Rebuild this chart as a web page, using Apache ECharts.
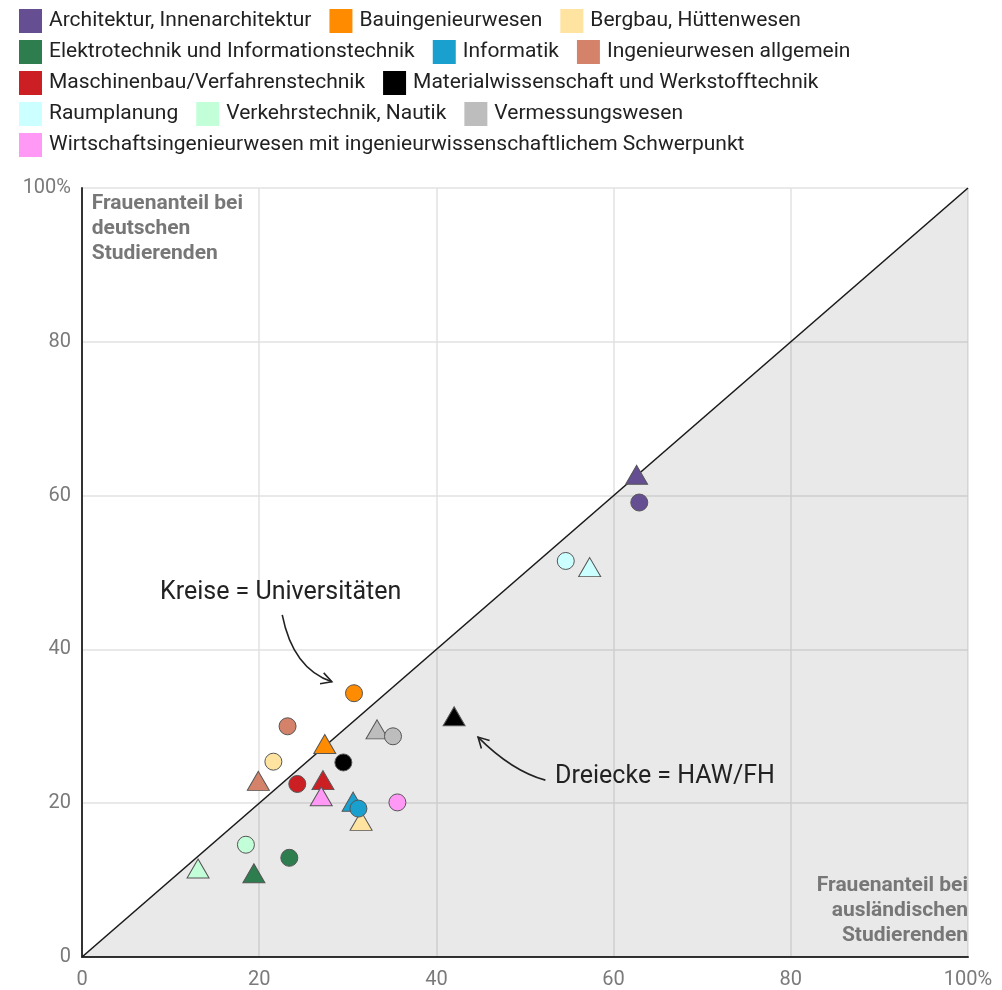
<!DOCTYPE html>
<html>
<head>
<meta charset="utf-8">
<script src="https://cdn.jsdelivr.net/npm/echarts@6/dist/echarts.min.js"></script>
<style>html,body{margin:0;padding:0;background:#fff}#c{width:1002px;height:990px}</style>
</head>
<body>
<div id="c"></div>
<script>
const categories = [
  'Architektur, Innenarchitektur','Bauingenieurwesen','Bergbau, Hüttenwesen',
  'Elektrotechnik und Informationstechnik','Informatik','Ingenieurwesen allgemein',
  'Maschinenbau/Verfahrenstechnik','Materialwissenschaft und Werkstofftechnik',
  'Raumplanung','Verkehrstechnik, Nautik','Vermessungswesen',
  'Wirtschaftsingenieurwesen mit ingenieurwissenschaftlichem Schwerpunkt'
];
const colors = ['#654f92','#ff8c00','#ffe3a0','#2e7d4f','#1aa0cf','#d4836a',
  '#cc1f24','#000000','#ccffff','#c2ffd8','#bdbdbd','#ff99f5'];
// Universities (circles): foreign share (x), German share (y)
const uniX = [62.9, 30.7, 21.6, 23.4, 31.2, 23.2, 24.3, 29.5, 54.6, 18.5, 35.1, 35.6];
const uniY = [59.1, 34.3, 25.4, 12.9, 19.3, 30.0, 22.5, 25.3, 51.5, 14.6, 28.7, 20.1];
// HAW/FH (triangles)
const hawX = [62.6, 27.4, 31.5, 19.4, 30.6, 19.9, 27.2, 42.0, 57.3, 13.1, 33.3, 27.0];
const hawY = [62.7, 27.7, 17.7, 10.9, 20.2, 22.9, 23.0, 31.3, 50.7, 11.5, 29.6, 20.9];
const legendRows = [[0,1,2],[3,4,5],[6,7],[8,9,10],[11]];

const chart = echarts.init(document.getElementById('c'), null, {renderer:'canvas'});

const series = [{
  type:'line', data:[[0,0],[100,100]], symbol:'none', silent:true,
  lineStyle:{color:'#1a1a1a', width:1.6},
  areaStyle:{color:'rgba(0,0,0,0.085)', opacity:1}, z:1
}];
categories.forEach((name,i)=>{
  series.push({
    type:'scatter', name, z:3,
    itemStyle:{color:colors[i], borderColor:'#555', borderWidth:1, opacity:1},
    data:[
      {value:[hawX[i],hawY[i]], symbol:'triangle', symbolSize:[22,19]},
      {value:[uniX[i],uniY[i]], symbol:'circle', symbolSize:17}
    ]
  });
});

const legends = legendRows.map((row,r)=>({
  data: row.map(i=>categories[i]), left:19, top:9 + r*31, padding:0,
  orient:'horizontal', icon:'rect', itemWidth:23, itemHeight:24, itemGap:18,
  selectedMode:false,
  itemStyle:{borderWidth:0, opacity:1},
  textStyle:{fontFamily:'Roboto', fontSize:21, color:'#222', padding:[0,0,0,2]}
}));

const labelFmt = v => v===100 ? '100%' : String(v);
chart.setOption({
  animation:false,
  color: colors,
  legend: legends,
  grid:{left:82, right:34, top:188, bottom:32, containLabel:false},
  xAxis:{type:'value', min:0, max:100, interval:20,
    axisLine:{show:true, onZero:false, lineStyle:{color:'#333', width:2}},
    axisTick:{show:false},
    splitLine:{show:true, lineStyle:{color:'#e2e2e2', width:1.5}},
    axisLabel:{formatter:labelFmt, color:'#7a7a7a', fontFamily:'Roboto', fontSize:20, margin:13, showMaxLabel:true}
  },
  yAxis:{type:'value', min:0, max:100, interval:20,
    axisLine:{show:true, onZero:false, lineStyle:{color:'#333', width:2}},
    axisTick:{show:false},
    splitLine:{show:true, lineStyle:{color:'#e2e2e2', width:1.5}},
    axisLabel:{formatter:labelFmt, color:'#7a7a7a', fontFamily:'Roboto', fontSize:20, margin:11, showMaxLabel:true}
  },
  series
});

// annotations placed in data coordinates
const P = (x,y)=>chart.convertToPixel({gridIndex:0},[x,y]);
function arrow(a, c, b){
  const [x0,y0]=P(...a), [cx,cy]=P(...c), [x1,y1]=P(...b);
  const ang = Math.atan2(y1-cy, x1-cx), L=12, s=0.5;
  const h1=[x1-L*Math.cos(ang-s), y1-L*Math.sin(ang-s)];
  const h2=[x1-L*Math.cos(ang+s), y1-L*Math.sin(ang+s)];
  return [
    {type:'bezierCurve', shape:{x1:x0,y1:y0,cpx1:cx,cpy1:cy,x2:x1,y2:y1}, style:{stroke:'#222', lineWidth:1.6, fill:null}, z:10},
    {type:'polyline', shape:{points:[h1,[x1,y1],h2]}, style:{stroke:'#222', lineWidth:1.6, fill:null}, z:10}
  ];
}
const tl = P(1.1, 99.6), br = P(100, 1.1);
const k = P(8.8, 47.4), d = P(53.4, 23.5);
const halo = {shadowColor:'rgba(255,255,255,1)', shadowBlur:5};
chart.setOption({graphic:[
  {type:'text', x:tl[0], y:tl[1], z:10, style:Object.assign({text:'Frauenanteil bei\ndeutschen\nStudierenden', fill:'#777', font:'bold 21px Roboto', lineHeight:25, align:'left', verticalAlign:'top'}, halo)},
  {type:'text', x:br[0], y:br[1], z:10, style:Object.assign({text:'Frauenanteil bei\nausländischen\nStudierenden', fill:'#777', font:'bold 21px Roboto', lineHeight:25, align:'right', verticalAlign:'bottom'}, halo)},
  {type:'text', x:k[0], y:k[1], z:10, style:{text:'Kreise = Universitäten', fill:'#222', font:'25px Roboto', verticalAlign:'middle'}},
  {type:'text', x:d[0], y:d[1], z:10, style:{text:'Dreiecke = HAW/FH', fill:'#222', font:'25px Roboto', verticalAlign:'middle'}},
  ...arrow([22.6,44.5],[23.8,37.5],[28.2,35.8]),
  ...arrow([52.3,23.0],[48.5,24.2],[44.7,28.6])
]});
</script>
</body>
</html>
